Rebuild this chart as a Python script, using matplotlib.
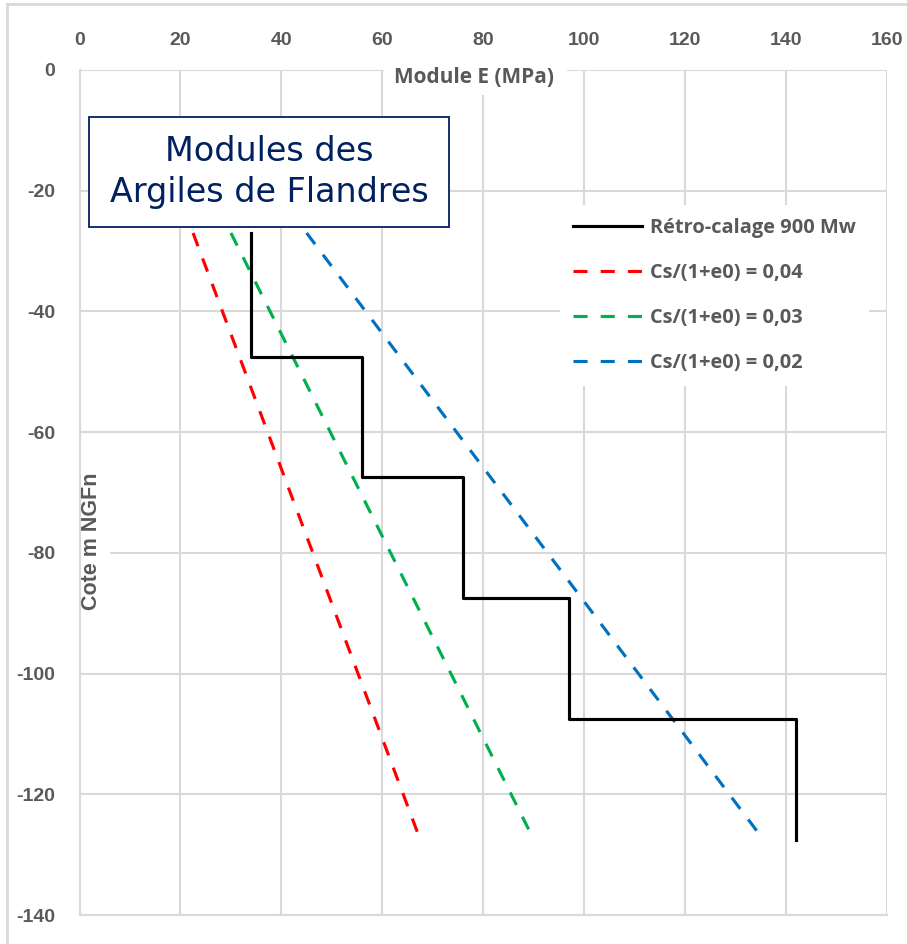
import matplotlib
matplotlib.use('Agg')
import matplotlib.pyplot as plt
from matplotlib.patches import Rectangle
from matplotlib.lines import Line2D

# Données : cotes (m NGFn) et modules E (MPa)
cote_retro = [-27, -47.5, -47.5, -67.5, -67.5, -87.5, -87.5, -107.5, -107.5, -127.5]
E_retro = [34, 34, 56, 56, 76, 76, 97, 97, 142, 142]

cote_cs = [-27, -127.5]
E_cs004 = [22.5, 67.5]
E_cs003 = [30, 90]
E_cs002 = [45, 135.5]

noms = ['Rétro-calage 900 Mw', 'Cs/(1+e0) = 0,04', 'Cs/(1+e0) = 0,03', 'Cs/(1+e0) = 0,02']
x_ticks = list(range(0, 161, 20))
y_ticks = list(range(0, -141, -20))

GRIS = '#595959'
GRILLE = '#d9d9d9'
MARINE = '#002060'

plt.rcParams['font.family'] = ['Liberation Sans', 'DejaVu Sans']
plt.rcParams['font.weight'] = 'bold'
plt.rcParams['axes.unicode_minus'] = False

W, H = 907, 944
fig = plt.figure(figsize=(W / 100, H / 100), dpi=100)

# cadre extérieur (haut et gauche visibles)
fig.add_artist(Line2D([7 / W, 7 / W], [1 - 4 / H, 0], color=GRILLE, lw=2))
fig.add_artist(Line2D([7 / W, 1], [1 - 4 / H, 1 - 4 / H], color=GRILLE, lw=2))

ax = fig.add_axes([79.5 / W, 1 - 915 / H, (887 - 79.5) / W, (915 - 70) / H])
ax.set_xlim(0, 160)
ax.set_ylim(-140, 0)
ax.set_xticks(x_ticks)
ax.set_yticks(y_ticks)
ax.xaxis.tick_top()
ax.grid(color=GRILLE, lw=1.5)
ax.set_axisbelow(True)
for s in ['top', 'right']:
    ax.spines[s].set_visible(False)
for s in ['left', 'bottom']:
    ax.spines[s].set_color(GRILLE)
    ax.spines[s].set_linewidth(1.5)
ax.tick_params(axis='x', length=0, pad=15, labelsize=14, labelcolor=GRIS)
ax.tick_params(axis='y', length=0, pad=17.5, labelsize=14, labelcolor=GRIS)

tiret = (0, (4.5, 4.2))
ax.plot(E_retro, cote_retro, color='black', lw=2.25, label=noms[0], zorder=4)
ax.plot(E_cs004, cote_cs, color='#ff0000', lw=2.25, ls=tiret, label=noms[1], zorder=3)
ax.plot(E_cs003, cote_cs, color='#00b050', lw=2.25, ls=tiret, label=noms[2], zorder=3)
ax.plot(E_cs002, cote_cs, color='#0070c0', lw=2.25, ls=tiret, label=noms[3], zorder=3)

# titres d'axes sur fond blanc
ax.add_patch(Rectangle((60.3, -4.1), 36.3, 4.5, facecolor='white', edgecolor='none',
                       zorder=2, clip_on=False))
ax.text(78.2, -1.2, 'Module E (MPa)', ha='center', va='center', fontsize=15,
        fontfamily=['Open Sans', 'DejaVu Sans'], fontweight='bold', color=GRIS, zorder=5)
ax.add_patch(Rectangle((-0.9, -91.5), 6.9, 27.0, facecolor='white', edgecolor='none',
                       zorder=2, clip_on=False))
ax.text(2.4, -78.0, 'Cote m NGFn', ha='center', va='center', rotation=90, fontsize=15.5,
        fontweight='bold', color=GRIS, zorder=5)

# cartouche
ax.add_patch(Rectangle((1.9, -26.0), 71.3, 18.2, facecolor='white', edgecolor=MARINE,
                       lw=1.3, zorder=5))
ax.text(37.6, -16.9, 'Modules des\nArgiles de Flandres', ha='center', va='center',
        fontsize=24, color=MARINE, fontfamily='DejaVu Sans', fontweight='normal',
        linespacing=1.3, zorder=6)

leg = ax.legend(loc='upper left', bbox_to_anchor=(560 / W, 1 - 205 / H),
                bbox_transform=fig.transFigure, frameon=True, fancybox=False,
                edgecolor='none', facecolor='white', framealpha=1, borderaxespad=0,
                borderpad=0.65, handlelength=3.45, handletextpad=0.4, labelspacing=1.25,
                prop={'family': ['Open Sans', 'DejaVu Sans'], 'weight': 'bold', 'size': 14.4})
for t in leg.get_texts():
    t.set_color(GRIS)

fig.savefig('out.png', dpi=100, facecolor='white')
